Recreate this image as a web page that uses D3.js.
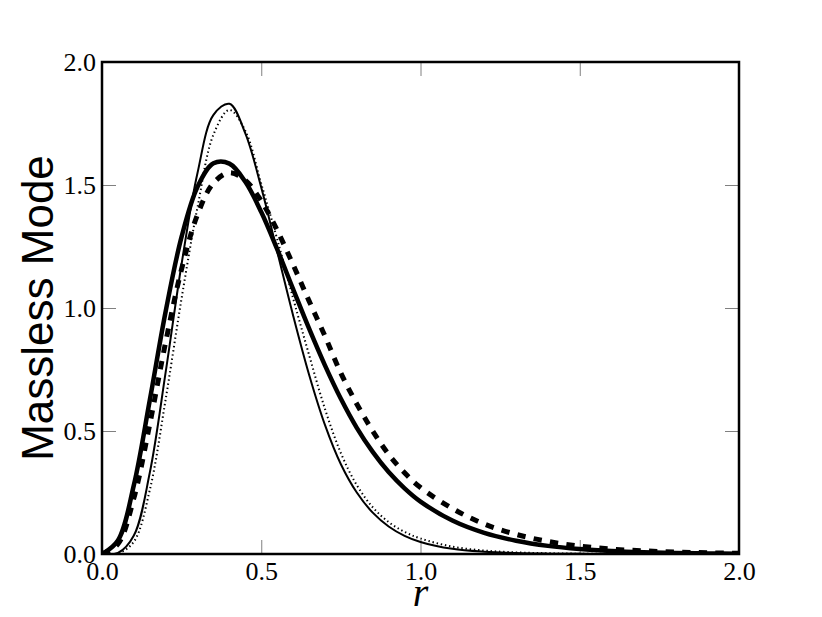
<!DOCTYPE html>
<html>
<head>
<meta charset="utf-8">
<script src="https://cdn.jsdelivr.net/npm/d3@7"></script>
<style>
	body { margin: 0; background: #fff; }
	svg { display: block; }
</style>
</head>
<body>
<div id="chart"></div>
<script>
// r SAMPLES, SHARED BY ALL FOUR CURVES
var rValues = [0, 0.05, 0.1, 0.15, 0.2, 0.25, 0.3, 0.35, 0.4, 0.45, 0.5, 0.55, 0.6, 0.65, 0.7, 0.75, 0.8, 0.85, 0.9, 0.95, 1.0, 1.1, 1.2, 1.3, 1.4, 1.5, 1.6, 1.7, 1.8, 1.9, 2.0];

// THIN SOLID
var thinSolid = [0, 0.004, 0.075, 0.33, 0.74, 1.18, 1.55, 1.785, 1.83, 1.71, 1.49, 1.23, 0.97, 0.73, 0.525, 0.365, 0.25, 0.168, 0.112, 0.074, 0.049, 0.021, 0.009, 0.0037, 0.0015, 0.0006, 0.0002, 0.0001, 0, 0, 0];
// THIN DOTTED
var thinDotted = [0, 0.002, 0.05, 0.26, 0.63, 1.04, 1.41, 1.705, 1.805, 1.72, 1.505, 1.28, 1.04, 0.81, 0.59, 0.41, 0.28, 0.19, 0.13, 0.09, 0.063, 0.03, 0.014, 0.0065, 0.003, 0.0013, 0.0005, 0.0002, 0.0001, 0, 0];
// THICK SOLID
var thickSolid = [0, 0.055, 0.28, 0.625, 0.987, 1.29, 1.493, 1.588, 1.587, 1.513, 1.39, 1.239, 1.077, 0.917, 0.767, 0.631, 0.513, 0.415, 0.333, 0.267, 0.213, 0.136, 0.086, 0.054, 0.033, 0.02, 0.012, 0.007, 0.004, 0.0023, 0.0013];
// THICK DASHED
var thickDashed = [0, 0.041, 0.227, 0.528, 0.862, 1.159, 1.38, 1.508, 1.55, 1.519, 1.435, 1.316, 1.176, 1.029, 0.886, 0.735, 0.61, 0.50, 0.405, 0.33, 0.27, 0.185, 0.122, 0.08, 0.051, 0.032, 0.02, 0.013, 0.008, 0.005, 0.003];

var xTicks = [0, 0.5, 1.0, 1.5, 2.0];
var yTicks = [0, 0.5, 1.0, 1.5, 2.0];

var W = 822, H = 617;
var LEFT = 102, TOP = 62, RIGHT = 739, BOTTOM = 554;
var TICK = 14;
var TICK_COLOR = "#808080";
var SERIF = "'Liberation Serif', 'DejaVu Serif', serif";

var svg = d3.select("#chart").append("svg")
	.attr("width", W)
	.attr("height", H);

var x = d3.scaleLinear().domain([0, 2]).range([LEFT, RIGHT]);
var y = d3.scaleLinear().domain([0, 2]).range([BOTTOM, TOP]);

svg.append("defs").append("clipPath").attr("id", "plotClip")
	.append("rect")
	.attr("x", LEFT).attr("y", TOP)
	.attr("width", RIGHT - LEFT).attr("height", BOTTOM - TOP);

var fmt = d3.format(".1f");

//AXES: TICKS POINT INWARD ON ALL FOUR SIDES
var gBottom = svg.append("g")
	.attr("transform", "translate(0," + BOTTOM + ")")
	.call(d3.axisBottom(x).tickValues(xTicks).tickSize(-TICK).tickPadding(8).tickFormat(fmt));
var gTop = svg.append("g")
	.attr("transform", "translate(0," + TOP + ")")
	.call(d3.axisTop(x).tickValues(xTicks).tickSize(-TICK).tickFormat(""));
var gLeft = svg.append("g")
	.attr("transform", "translate(" + LEFT + ",0)")
	.call(d3.axisLeft(y).tickValues(yTicks).tickSize(-TICK).tickPadding(6).tickFormat(fmt));
var gRight = svg.append("g")
	.attr("transform", "translate(" + RIGHT + ",0)")
	.call(d3.axisRight(y).tickValues(yTicks).tickSize(-TICK).tickFormat(""));

[gBottom, gTop, gLeft, gRight].forEach(function(g){
	g.select(".domain").remove();
	g.selectAll(".tick line").attr("stroke", TICK_COLOR).attr("stroke-width", 1);
	g.selectAll(".tick text")
		.attr("fill", "#000")
		.style("font-family", SERIF)
		.style("font-size", "26px");
});

//CURVES
var series = [
	{values: thinSolid, width: 2, dash: null},
	{values: thinDotted, width: 2, dash: "1.4,2.8"},
	{values: thickSolid, width: 4.5, dash: null},
	{values: thickDashed, width: 5, dash: "8.3,8.3"}
];

var line = d3.line()
	.x(function(d){ return x(d[0]); })
	.y(function(d){ return y(d[1]); })
	.curve(d3.curveCatmullRom.alpha(0.5));

var gLines = svg.append("g").attr("clip-path", "url(#plotClip)");
series.forEach(function(s){
	var pts = rValues.map(function(r, i){ return [r, s.values[i]]; });
	gLines.append("path")
		.datum(pts)
		.attr("d", line)
		.attr("fill", "none")
		.attr("stroke", "#000")
		.attr("stroke-width", s.width)
		.attr("stroke-dasharray", s.dash);
});

//FRAME
svg.append("rect")
	.attr("x", LEFT).attr("y", TOP)
	.attr("width", RIGHT - LEFT).attr("height", BOTTOM - TOP)
	.attr("fill", "none")
	.attr("stroke", "#000")
	.attr("stroke-width", 2.5);

//LABELS
svg.append("text")
	.attr("transform", "translate(53," + ((TOP + BOTTOM) / 2) + ") rotate(-90)")
	.attr("text-anchor", "middle")
	.style("font-family", "'Liberation Sans', Arial, sans-serif")
	.style("font-size", "44px")
	.text("Massless Mode");

svg.append("text")
	.attr("x", (LEFT + RIGHT) / 2)
	.attr("y", 606)
	.attr("text-anchor", "middle")
	.style("font-family", SERIF)
	.style("font-style", "italic")
	.style("font-size", "40px")
	.text("r");
</script>
</body>
</html>
